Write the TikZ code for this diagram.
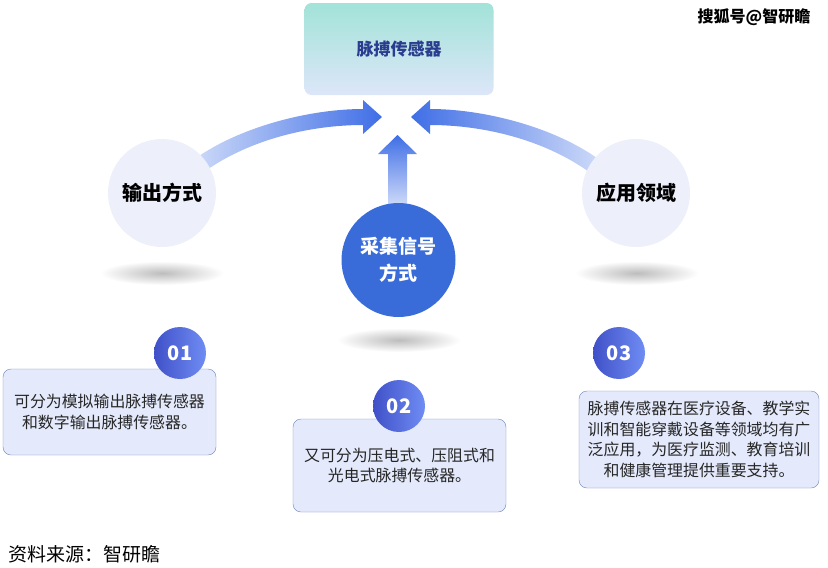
\documentclass[tikz,border=0pt]{standalone}
\usepackage{fontspec}
\setmainfont{Noto Sans CJK SC}

\definecolor{tealtop}{HTML}{A2E3D8}
\definecolor{tealbot}{HTML}{DDE6F9}
\definecolor{titleblue}{HTML}{2A3D8F}
\definecolor{arrowblue}{HTML}{3F6EE6}
\definecolor{arrowlight}{HTML}{CCD9F8}
\definecolor{arrowpale}{HTML}{E2E9FB}
\definecolor{lavender}{HTML}{EDEFFB}
\definecolor{corefill}{HTML}{3A6CD9}
\definecolor{dotdark}{HTML}{4050C8}
\definecolor{dotlight}{HTML}{6F8DF3}
\definecolor{notefill}{HTML}{E4EAFB}
\definecolor{noteline}{HTML}{6C84B8}

\begin{document}
\begin{tikzpicture}[x=1pt, y=-1pt,
    topbox/.style={rectangle, rounded corners=7pt, top color=tealtop, bottom color=tealbot, minimum width=189pt, minimum height=92pt, font=\fontsize{17}{20}\selectfont\bfseries, text=titleblue},
    topic/.style={circle, fill=lavender, minimum size=108pt, inner sep=0pt, font=\fontsize{20}{24}\selectfont\bfseries},
    numdot/.style={circle, left color=dotdark, right color=dotlight, minimum size=52pt, inner sep=0pt, text=white, font=\fontsize{20}{24}\selectfont\bfseries},
    note/.style={rectangle, draw=noteline, rounded corners=8pt, fill=notefill, align=center, font=\fontsize{15.9}{20.6}\selectfont, text=black!85},
    floorshade/.style={inner color=black!26, outer color=white}
  ]
  \useasboundingbox (0,0) rectangle (828,568);

  % shadows under the circles
  \shade[floorshade] (162,273) ellipse (62 and 12);
  \shade[floorshade] (399,340) ellipse (62 and 12);
  \shade[floorshade] (637,273) ellipse (62 and 12);

  % arrows into the sensor
  \shade[left color=arrowlight, right color=arrowblue]
    (195.4,158.5) .. controls (240.4,126.5) and (310,109) .. (363,109)
    -- (363,100) -- (382,117) -- (363,134) -- (363,125)
    .. controls (310,125) and (249.6,139.5) .. (204.6,171.5) -- cycle;
  \shade[left color=arrowblue, right color=arrowlight]
    (597.6,158.5) .. controls (552.6,126.5) and (483,109) .. (430,109)
    -- (430,100) -- (411,117) -- (430,134) -- (430,125)
    .. controls (483,125) and (543.4,139.5) .. (588.4,171.5) -- cycle;
  \shade[top color=arrowblue, bottom color=arrowpale]
    (388,215) -- (388,154) -- (378,154) -- (397.5,135) -- (417,154)
    -- (407,154) -- (407,215) -- cycle;

  % main nodes
  \node[topbox] (sensor) at (399,49) {脉搏传感器};
  \node[topic] (output) at (162,193) {输出方式};
  \node[circle, fill=corefill, minimum size=114pt, inner sep=0pt, text=white, align=center, font=\fontsize{19}{27}\selectfont\bfseries] (acquire) at (398.5,260) {采集信号\\方式};
  \node[topic] (usage) at (636,193) {应用领域};

  % notes
  \node[note, minimum width=213pt, minimum height=86pt] (note1) at (109.5,412) {可分为模拟输出脉搏传感器\\和数字输出脉搏传感器。};
  \node[note, minimum width=213pt, minimum height=93pt] (note2) at (399.5,465.5) {又可分为压电式、压阻式和\\光电式脉搏传感器。};
  \node[note, minimum width=240pt, minimum height=97pt] (note3) at (699,439.5) {脉搏传感器在医疗设备、教学实\\训和智能穿戴设备等领域均有广\\泛应用，为医疗监测、教育培训\\和健康管理提供重要支持。};

  \node[numdot] (num1) at (180,353) {01};
  \node[numdot] (num2) at (399,406) {02};
  \node[numdot] (num3) at (619,353) {03};

  % captions
  \node[font=\fontsize{16}{18}\selectfont\bfseries] (mark) at (754,17) {搜狐号@智研瞻};
  \node[anchor=west, font=\fontsize{19}{21}\selectfont, inner sep=0pt] (source) at (8,554) {资料来源：智研瞻};
\end{tikzpicture}
\end{document}
